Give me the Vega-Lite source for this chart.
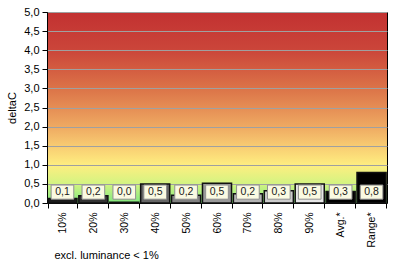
{
  "$schema": "https://vega.github.io/schema/vega-lite/v6.json",
  "width": 340,
  "height": 191,
  "autosize": {"type": "none"},
  "padding": {"left": 47, "top": 12, "right": 8, "bottom": 59},
  "background": "#ffffff",
  "config": {
    "locale": {"number": {"decimal": ",", "thousands": ".", "grouping": [3], "currency": ["", " €"]}},
    "font": "Liberation Sans",
    "view": {
      "stroke": "#000000",
      "strokeWidth": 1,
      "fill": {
        "gradient": "linear", "x1": 0, "y1": 1, "x2": 0, "y2": 0,
        "stops": [
          {"offset": 0, "color": "#7EE87E"},
          {"offset": 0.1, "color": "#D2F482"},
          {"offset": 0.2, "color": "#FEEE80"},
          {"offset": 0.3, "color": "#F8CC72"},
          {"offset": 0.4, "color": "#EFAA62"},
          {"offset": 0.5, "color": "#E58E55"},
          {"offset": 0.6, "color": "#DC7448"},
          {"offset": 0.8, "color": "#CB463A"},
          {"offset": 1, "color": "#C23131"}
        ]
      }
    },
    "axis": {"labelColor": "#000000", "titleColor": "#000000", "tickColor": "#000000", "domainColor": "#000000", "labelFont": "Liberation Sans", "titleFont": "Liberation Sans"},
    "axisY": {
      "titleFontSize": 11, "titleFontWeight": "normal", "titlePadding": 6,
      "labelFontSize": 11, "tickSize": 5, "labelPadding": 3, "labelOverlap": false,
      "grid": true, "gridColor": "#A0A0A0", "gridWidth": 1
    }
  },
  "data": {
    "values": [
      {"cat": "10%", "value": 0.12},
      {"cat": "20%", "value": 0.19},
      {"cat": "30%", "value": 0.02},
      {"cat": "40%", "value": 0.5},
      {"cat": "50%", "value": 0.2},
      {"cat": "60%", "value": 0.52},
      {"cat": "70%", "value": 0.24},
      {"cat": "80%", "value": 0.32},
      {"cat": "90%", "value": 0.5},
      {"cat": "-", "value": null},
      {"cat": "Avg.*", "value": 0.3},
      {"cat": "Range*", "value": 0.8}
    ]
  },
  "encoding": {
    "x": {
      "field": "cat", "type": "ordinal", "sort": null,
      "scale": {"paddingInner": 0.06, "paddingOuter": 0.03},
      "axis": {
        "title": "excl. luminance < 1%",
        "titleFontSize": 11, "titleFontWeight": "normal",
        "titleAnchor": "start", "titleAlign": "left", "titleBaseline": "alphabetic",
        "titleX": 7, "titleY": 55,
        "labelAngle": -90, "labelFontSize": 10.5, "labelPadding": 4,
        "tickBand": "extent", "tickSize": 5, "grid": false
      }
    }
  },
  "layer": [
    {
      "mark": {"type": "bar", "stroke": "#111111", "strokeWidth": 1.5},
      "encoding": {
        "y": {
          "field": "value", "type": "quantitative",
          "scale": {"domain": [0, 5], "nice": false},
          "axis": {"title": "deltaC", "values": [0, 0.5, 1, 1.5, 2, 2.5, 3, 3.5, 4, 4.5, 5], "format": ".1f"}
        },
        "fill": {
          "field": "cat", "type": "nominal", "legend": null,
          "scale": {
            "domain": ["10%", "20%", "30%", "40%", "50%", "60%", "70%", "80%", "90%", "-", "Avg.*", "Range*"],
            "range": ["#1a1a1a", "#333333", "#4d4d4d", "#666666", "#808080", "#999999", "#b3b3b3", "#cccccc", "#e6e6e6", "#ffffff", "#000000", "#000000"]
          }
        }
      }
    },
    {
      "transform": [{"filter": "datum.value != null"}],
      "mark": {"type": "bar", "fill": "#FAFAE2", "stroke": "#909090", "strokeWidth": 1, "width": {"band": 0.78}},
      "encoding": {
        "y": {"datum": 0.1, "type": "quantitative", "axis": {"title": "deltaC", "values": [0, 0.5, 1, 1.5, 2, 2.5, 3, 3.5, 4, 4.5, 5], "format": ".1f"}},
        "y2": {"datum": 0.47}
      }
    },
    {
      "transform": [{"filter": "datum.value != null"}],
      "mark": {"type": "text", "fontSize": 10.5, "color": "#1a1a1a", "baseline": "middle", "font": "Liberation Sans"},
      "encoding": {
        "y": {"datum": 0.285, "type": "quantitative", "axis": {"title": "deltaC", "values": [0, 0.5, 1, 1.5, 2, 2.5, 3, 3.5, 4, 4.5, 5], "format": ".1f"}},
        "text": {"field": "value", "type": "quantitative", "format": ".1f"}
      }
    }
  ]
}
